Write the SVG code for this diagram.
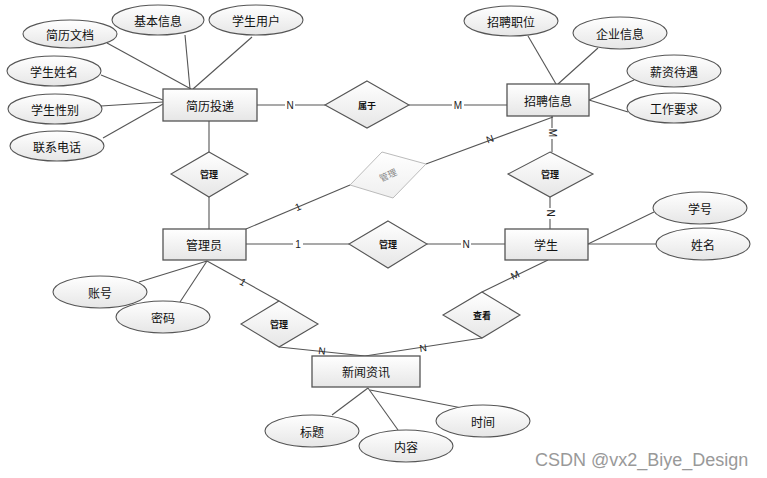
<svg xmlns="http://www.w3.org/2000/svg" width="767" height="478" viewBox="0 0 767 478">
<defs>
<linearGradient id="g" x1="0" y1="0" x2="0" y2="1">
<stop offset="0" stop-color="#ffffff"/>
<stop offset="1" stop-color="#e6e6e6"/>
</linearGradient>
<linearGradient id="gl" x1="0" y1="0" x2="0" y2="1">
<stop offset="0" stop-color="#ffffff"/>
<stop offset="1" stop-color="#efefef"/>
</linearGradient>
</defs>
<style>
.ent{fill:url(#g);stroke:#555;stroke-width:1.3}
.att{fill:url(#g);stroke:#555;stroke-width:1.1}
.rel{fill:url(#g);stroke:#555;stroke-width:1.1}
.faint{fill:url(#gl);stroke:#bbb;stroke-width:1}
.t{font-family:"Noto Sans CJK SC","Liberation Sans",sans-serif;font-size:12px;fill:#111;text-anchor:middle;dominant-baseline:central}
.s{font-family:"Noto Sans CJK SC","Liberation Sans",sans-serif;font-size:9px;font-weight:bold;fill:#111;text-anchor:middle;dominant-baseline:central}
.c line{stroke:#555;stroke-width:1.1}
.lab{font-family:"Liberation Sans",sans-serif;font-size:10px;fill:#222;text-anchor:middle;dominant-baseline:central}
.bg{fill:#fff}
</style>
<rect width="767" height="478" fill="#fff"/>
<g id="connectors" class="c">
<line x1="107" y1="43" x2="191" y2="89"/>
<line x1="185" y1="35" x2="190" y2="89"/>
<line x1="252" y1="37" x2="193" y2="89"/>
<line x1="101" y1="75" x2="163" y2="100"/>
<line x1="101" y1="106" x2="163" y2="102"/>
<line x1="103" y1="138" x2="163" y2="104"/>
<line x1="257" y1="105" x2="325" y2="105"/>
<line x1="409" y1="105" x2="507" y2="105"/>
<line x1="528" y1="36" x2="556" y2="84"/>
<line x1="598" y1="48" x2="558" y2="84"/>
<line x1="634" y1="80" x2="589" y2="100"/>
<line x1="628" y1="112" x2="589" y2="100"/>
<line x1="552" y1="116" x2="552" y2="152"/>
<line x1="209" y1="121" x2="209" y2="152"/>
<line x1="209" y1="197" x2="209" y2="229"/>
<line x1="246" y1="229" x2="350" y2="185"/>
<line x1="426" y1="164" x2="553" y2="117"/>
<line x1="550" y1="197" x2="550" y2="229"/>
<line x1="246" y1="244" x2="349" y2="244"/>
<line x1="427" y1="244" x2="505" y2="244"/>
<line x1="654" y1="212" x2="588" y2="244"/>
<line x1="657" y1="244" x2="588" y2="244"/>
<line x1="207" y1="261" x2="139" y2="282"/>
<line x1="207" y1="261" x2="180" y2="302"/>
<line x1="207" y1="261" x2="279" y2="301"/>
<line x1="279" y1="347" x2="365" y2="356"/>
<line x1="548" y1="260" x2="482" y2="292"/>
<line x1="482" y1="338" x2="365" y2="356"/>
<line x1="368" y1="388" x2="332" y2="415"/>
<line x1="368" y1="388" x2="398" y2="430"/>
<line x1="370" y1="390" x2="462" y2="408"/>
</g>
<g id="labels">
<rect class="bg" x="285" y="99" width="10" height="12"/><text class="lab" x="290" y="105">N</text>
<rect class="bg" x="452" y="99" width="12" height="12"/><text class="lab" x="458" y="105">M</text>
<rect class="bg" x="546" y="128" width="12" height="11"/><text class="lab" x="552" y="133" transform="rotate(90 552 133)">M</text>
<rect class="bg" x="545" y="208" width="10" height="11"/><text class="lab" x="550" y="213" transform="rotate(90 550 213)">N</text>
<text class="lab" x="490" y="139" transform="rotate(-20 490 139)">N</text>
<text class="lab" x="298" y="207" transform="rotate(-23 298 207)">1</text>
<rect class="bg" x="293" y="238" width="10" height="12"/><text class="lab" x="298" y="244">1</text>
<rect class="bg" x="461" y="238" width="10" height="12"/><text class="lab" x="466" y="244">N</text>
<text class="lab" x="243" y="282" transform="rotate(30 243 282)">1</text>
<text class="lab" x="322" y="351" transform="rotate(6 322 351)">N</text>
<text class="lab" x="515" y="275" transform="rotate(-25 515 275)">M</text>
<text class="lab" x="423" y="348" transform="rotate(-8 423 348)">N</text>
</g>
<g id="e-jianli"><rect class="ent" x="163" y="89" width="94" height="32"/><text class="t" x="210" y="105">简历投递</text></g>
<g id="e-zhaopin"><rect class="ent" x="507" y="84" width="82" height="32"/><text class="t" x="548" y="100">招聘信息</text></g>
<g id="e-admin"><rect class="ent" x="163" y="229" width="83" height="31"/><text class="t" x="204" y="244">管理员</text></g>
<g id="e-student"><rect class="ent" x="505" y="229" width="83" height="31"/><text class="t" x="546" y="244">学生</text></g>
<g id="e-news"><rect class="ent" x="312" y="356" width="108" height="31"/><text class="t" x="366" y="371">新闻资讯</text></g>
<g id="a-jldd"><ellipse class="att" cx="70" cy="34" rx="47" ry="14"/><text class="t" x="70" y="34">简历文档</text></g>
<g id="a-jbxx"><ellipse class="att" cx="158" cy="20" rx="46" ry="15"/><text class="t" x="158" y="20">基本信息</text></g>
<g id="a-xsyh"><ellipse class="att" cx="256" cy="20" rx="47" ry="15"/><text class="t" x="256" y="20">学生用户</text></g>
<g id="a-xsxm"><ellipse class="att" cx="54" cy="71" rx="47" ry="15"/><text class="t" x="54" y="71">学生姓名</text></g>
<g id="a-xsxb"><ellipse class="att" cx="55" cy="109" rx="47" ry="15"/><text class="t" x="55" y="109">学生性别</text></g>
<g id="a-lxdh"><ellipse class="att" cx="57" cy="146" rx="47" ry="15"/><text class="t" x="57" y="146">联系电话</text></g>
<g id="a-zpzw"><ellipse class="att" cx="511" cy="21" rx="47" ry="15"/><text class="t" x="511" y="21">招聘职位</text></g>
<g id="a-qyxx"><ellipse class="att" cx="620" cy="33" rx="47" ry="16"/><text class="t" x="620" y="33">企业信息</text></g>
<g id="a-xzdy"><ellipse class="att" cx="674" cy="71" rx="47" ry="16"/><text class="t" x="674" y="71">薪资待遇</text></g>
<g id="a-gzyq"><ellipse class="att" cx="674" cy="108" rx="47" ry="15"/><text class="t" x="674" y="108">工作要求</text></g>
<g id="a-xh"><ellipse class="att" cx="700" cy="208" rx="47" ry="16"/><text class="t" x="700" y="208">学号</text></g>
<g id="a-xm"><ellipse class="att" cx="703" cy="244" rx="47" ry="16"/><text class="t" x="703" y="244">姓名</text></g>
<g id="a-zh"><ellipse class="att" cx="100" cy="292" rx="47" ry="16"/><text class="t" x="100" y="292">账号</text></g>
<g id="a-mm"><ellipse class="att" cx="163" cy="317" rx="47" ry="16"/><text class="t" x="163" y="317">密码</text></g>
<g id="a-bt"><ellipse class="att" cx="312" cy="431" rx="47" ry="16"/><text class="t" x="312" y="431">标题</text></g>
<g id="a-nr"><ellipse class="att" cx="406" cy="446" rx="47" ry="16"/><text class="t" x="406" y="446">内容</text></g>
<g id="a-sj"><ellipse class="att" cx="483" cy="421" rx="47" ry="16"/><text class="t" x="483" y="421">时间</text></g>
<g id="r-shuyu"><polygon class="rel" points="367,81 409,105 367,128 325,105"/><text class="s" x="367" y="105">属于</text></g>
<g id="r-guanli1"><polygon class="rel" points="209,152 248,174 209,197 171,174"/><text class="s" x="209" y="174">管理</text></g>
<g id="r-guanli2"><polygon class="rel" points="550,152 593,174 550,197 508,174"/><text class="s" x="550" y="174">管理</text></g>
<g id="r-guanli3"><polygon class="faint" points="382,152 426,164 393,198 350,185"/><text class="s" x="388" y="175" style="fill:#888;font-weight:normal" transform="rotate(-25 388 175)">管理</text></g>
<g id="r-guanli4"><polygon class="rel" points="388,221 427,244 388,268 349,244"/><text class="s" x="388" y="244">管理</text></g>
<g id="r-guanli5"><polygon class="rel" points="279,301 318,324 279,347 241,324"/><text class="s" x="279" y="324">管理</text></g>
<g id="r-chakan"><polygon class="rel" points="482,292 520,315 482,338 443,315"/><text class="s" x="482" y="315">查看</text></g>
<text x="535" y="466" font-family="Liberation Sans, sans-serif" font-size="18" fill="#999">CSDN @vx2_Biye_Design</text>
</svg>
